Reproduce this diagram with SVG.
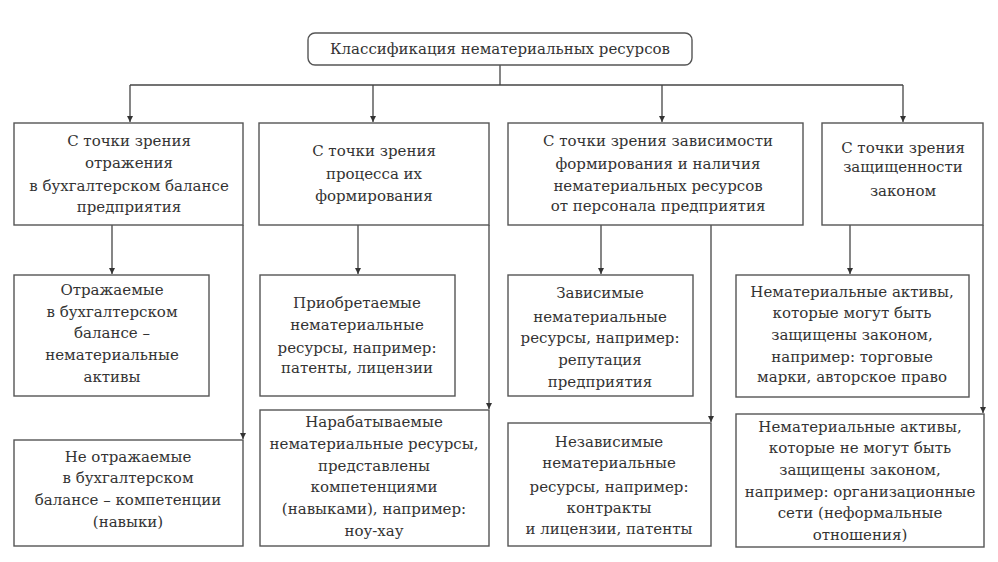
<svg xmlns="http://www.w3.org/2000/svg" width="998" height="562" viewBox="0 0 998 562">
<style>
.box{fill:#fff;stroke:#555;stroke-width:1.4}
.t{font-size:15px;fill:#333;text-anchor:middle}
.c{fill:none;stroke:#444;stroke-width:1.3}
</style>
<defs>
<marker id="ah" viewBox="0 0 6 6" refX="6" refY="3" markerWidth="6" markerHeight="6" markerUnits="userSpaceOnUse" orient="auto">
<path d="M0,0 L6,3 L0,6 Z" fill="#333"/>
</marker>
</defs>
<rect width="998" height="562" fill="#fff"/>
<g id="connectors">
<path class="c" d="M500,65 V85"/>
<path class="c" d="M130,85 H903"/>
<path class="c" d="M130,85 V122" marker-end="url(#ah)"/>
<path class="c" d="M373,85 V122" marker-end="url(#ah)"/>
<path class="c" d="M662,85 V122" marker-end="url(#ah)"/>
<path class="c" d="M903,85 V122" marker-end="url(#ah)"/>
<path class="c" d="M112,225 V274" marker-end="url(#ah)"/>
<path class="c" d="M243,225 V439" marker-end="url(#ah)"/>
<path class="c" d="M358,225 V274" marker-end="url(#ah)"/>
<path class="c" d="M489,225 V409" marker-end="url(#ah)"/>
<path class="c" d="M601,225 V274" marker-end="url(#ah)"/>
<path class="c" d="M711,225 V422" marker-end="url(#ah)"/>
<path class="c" d="M850,225 V274" marker-end="url(#ah)"/>
<path class="c" d="M983,225 V413" marker-end="url(#ah)"/>
</g>
<g font-family="'DejaVu Serif', 'Liberation Serif', serif">
<g id="title">
<rect class="box" x="308" y="33" width="384" height="32" rx="7"/>
<text class="t" x="500" y="54">Классификация нематериальных ресурсов</text>
</g>
<g id="boxA">
<rect class="box" x="14" y="123" width="229" height="102"/>
<text class="t" x="129" y="146">С точки зрения</text>
<text class="t" x="129" y="168">отражения</text>
<text class="t" x="129" y="191">в бухгалтерском балансе</text>
<text class="t" x="129" y="212">предприятия</text>
</g>
<g id="boxB">
<rect class="box" x="259" y="123" width="230" height="102"/>
<text class="t" x="374" y="156">С точки зрения</text>
<text class="t" x="374" y="179">процесса их</text>
<text class="t" x="374" y="201">формирования</text>
</g>
<g id="boxC">
<rect class="box" x="508" y="123" width="295" height="102"/>
<text class="t" x="658" y="146">С точки зрения зависимости</text>
<text class="t" x="658" y="169">формирования и наличия</text>
<text class="t" x="658" y="191">нематериальных ресурсов</text>
<text class="t" x="658" y="211">от персонала предприятия</text>
</g>
<g id="boxD">
<rect class="box" x="822" y="123" width="161" height="102"/>
<text class="t" x="903" y="153">С точки зрения</text>
<text class="t" x="903" y="172">защищенности</text>
<text class="t" x="903" y="196">законом</text>
</g>
<g id="boxA1">
<rect class="box" x="14" y="275" width="195" height="121"/>
<text class="t" x="112" y="295">Отражаемые</text>
<text class="t" x="112" y="317">в бухгалтерском</text>
<text class="t" x="112" y="338">балансе –</text>
<text class="t" x="112" y="360">нематериальные</text>
<text class="t" x="112" y="382">активы</text>
</g>
<g id="boxA2">
<rect class="box" x="14" y="440" width="229" height="106"/>
<text class="t" x="128" y="462">Не отражаемые</text>
<text class="t" x="128" y="483">в бухгалтерском</text>
<text class="t" x="128" y="505">балансе – компетенции</text>
<text class="t" x="128" y="527">(навыки)</text>
</g>
<g id="boxB1">
<rect class="box" x="260" y="275" width="195" height="121"/>
<text class="t" x="357" y="308">Приобретаемые</text>
<text class="t" x="357" y="330">нематериальные</text>
<text class="t" x="357" y="353">ресурсы, например:</text>
<text class="t" x="357" y="373">патенты, лицензии</text>
</g>
<g id="boxB2">
<rect class="box" x="260" y="410" width="229" height="136"/>
<text class="t" x="374" y="427">Нарабатываемые</text>
<text class="t" x="374" y="449">нематериальные ресурсы,</text>
<text class="t" x="374" y="471">представлены</text>
<text class="t" x="374" y="492">компетенциями</text>
<text class="t" x="374" y="514">(навыками), например:</text>
<text class="t" x="374" y="536">ноу-хау</text>
</g>
<g id="boxC1">
<rect class="box" x="508" y="275" width="185" height="121"/>
<text class="t" x="600" y="298">Зависимые</text>
<text class="t" x="600" y="322">нематериальные</text>
<text class="t" x="600" y="343">ресурсы, например:</text>
<text class="t" x="600" y="365">репутация</text>
<text class="t" x="600" y="387">предприятия</text>
</g>
<g id="boxC2">
<rect class="box" x="508" y="423" width="203" height="123"/>
<text class="t" x="609" y="447">Независимые</text>
<text class="t" x="609" y="468">нематериальные</text>
<text class="t" x="609" y="492">ресурсы, например:</text>
<text class="t" x="609" y="513">контракты</text>
<text class="t" x="609" y="534">и лицензии, патенты</text>
</g>
<g id="boxD1">
<rect class="box" x="736" y="275" width="233" height="122"/>
<text class="t" x="852" y="297">Нематериальные активы,</text>
<text class="t" x="852" y="318">которые могут быть</text>
<text class="t" x="852" y="340">защищены законом,</text>
<text class="t" x="852" y="362">например: торговые</text>
<text class="t" x="852" y="382">марки, авторское право</text>
</g>
<g id="boxD2">
<rect class="box" x="736" y="414" width="248" height="133"/>
<text class="t" x="860" y="432">Нематериальные активы,</text>
<text class="t" x="860" y="453">которые не могут быть</text>
<text class="t" x="860" y="475">защищены законом,</text>
<text class="t" x="860" y="497">например: организационные</text>
<text class="t" x="860" y="518">сети (неформальные</text>
<text class="t" x="860" y="540">отношения)</text>
</g>
</g>
</svg>
